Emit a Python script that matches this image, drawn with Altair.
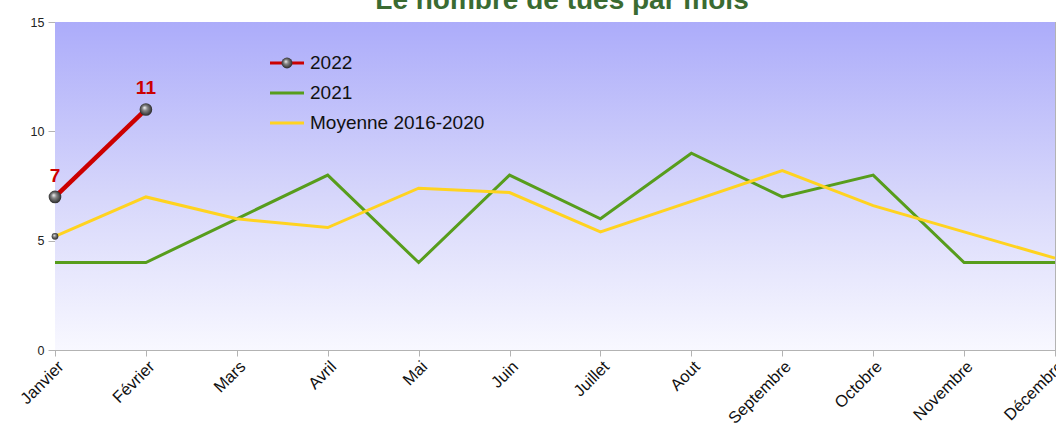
import altair as alt
import pandas as pd

months = ["Janvier", "Février", "Mars", "Avril", "Mai", "Juin", "Juillet",
          "Aout", "Septembre", "Octobre", "Novembre", "Décembre"]
v2022 = [7, 11]
v2021 = [4, 4, 6, 8, 4, 8, 6, 9, 7, 8, 4, 4]
moyenne = [5.2, 7.0, 6.0, 5.6, 7.4, 7.2, 5.4, 6.8, 8.2, 6.6, 5.4, 4.2]
legend_labels = ["2022", "2021", "Moyenne 2016-2020"]
title_text = "Le nombre de tués par mois"

RED = "#cc0000"
GREEN = "#579d1c"
YELLOW = "#ffd320"

df21 = pd.DataFrame({"mois": months, "v": v2021})
dfm = pd.DataFrame({"mois": months, "v": moyenne})
df22 = pd.DataFrame({"mois": months[:len(v2022)], "v": v2022})
dfm0 = dfm.iloc[:1]

xenc = alt.X("mois:N", sort=months, scale=alt.Scale(type="point", padding=0),
             axis=alt.Axis(title=None, labelAngle=-45, labelFontSize=16.5, labelColor="#111",
                           labelFont="Liberation Sans", tickSize=6, labelPadding=2,
                           domainColor="#b3b3b3", tickColor="#b3b3b3", grid=False))
yenc = alt.Y("v:Q", scale=alt.Scale(domain=[0, 15], nice=False),
             axis=alt.Axis(title=None, values=[0, 5, 10, 15], labelFontSize=12.5, labelColor="#222",
                           labelFont="Liberation Sans", tickSize=7, labelPadding=4,
                           domainColor="#b3b3b3", tickColor="#b3b3b3", grid=False))

bg_grad = alt.LinearGradient(gradient="linear", x1=0, x2=0, y1=0, y2=1,
                             stops=[alt.GradientStop(color="#acacfa", offset=0),
                                    alt.GradientStop(color="#d8d8fb", offset=0.55),
                                    alt.GradientStop(color="#f8f8ff", offset=1)])
sphere = alt.RadialGradient(gradient="radial", x1=0.38, y1=0.35, r1=0, x2=0.5, y2=0.5, r2=0.55,
                            stops=[alt.GradientStop(color="#ffffff", offset=0),
                                   alt.GradientStop(color="#8a8a8a", offset=0.35),
                                   alt.GradientStop(color="#1e1e1e", offset=1)])

bg = alt.Chart(dfm0).mark_rect(fill=bg_grad).encode(
    x=alt.value(0), x2=alt.value(1000), y=alt.value(0), y2=alt.value(328))

l21 = alt.Chart(df21).mark_line(color=GREEN, strokeWidth=3).encode(x=xenc, y=yenc)
lm = alt.Chart(dfm).mark_line(color=YELLOW, strokeWidth=3).encode(x=xenc, y=yenc)
pm = alt.Chart(dfm0).mark_point(filled=True, fill=sphere, size=45, opacity=1, strokeWidth=0).encode(x=xenc, y=yenc)
l22 = alt.Chart(df22).mark_line(color=RED, strokeWidth=4.5).encode(x=xenc, y=yenc)
p22 = alt.Chart(df22).mark_point(filled=True, fill=sphere, size=160, opacity=1, strokeWidth=0).encode(x=xenc, y=yenc)
t22 = alt.Chart(df22).mark_text(color=RED, fontSize=19, fontWeight="bold", font="Liberation Sans",
                                baseline="alphabetic", dy=-15).encode(x=xenc, y=yenc, text=alt.Text("v:Q"))

# custom legend
leg = pd.DataFrame({"label": legend_labels, "row": [0, 1, 2],
                    "col": [RED, GREEN, YELLOW]})
leg_y = alt.Y("row:Q", scale=alt.Scale(range=[41, 101], domain=[0, 2]), axis=None)
leg_lines = alt.Chart(leg).mark_rule(strokeWidth=3).encode(
    x=alt.value(215), x2=alt.value(249), y=leg_y,
    color=alt.Color("col:N", scale=None, legend=None))
leg_pt = alt.Chart(leg.iloc[:1]).mark_point(filled=True, fill=sphere, size=120, opacity=1, strokeWidth=0).encode(
    x=alt.value(232), y=leg_y)
leg_text = alt.Chart(leg).mark_text(align="left", baseline="middle", fontSize=19, font="Liberation Sans",
                                    color="#111").encode(x=alt.value(255), y=leg_y, text="label:N")

title = alt.Chart(dfm0).mark_text(fontSize=28, fontWeight="bold", font="Liberation Sans", color="#3a6b32",
                                  baseline="alphabetic", align="center").encode(
    x=alt.value(507), y=alt.value(-13), text=alt.value(title_text))

chart = alt.layer(bg, l21, lm, pm, l22, p22, t22, leg_lines, leg_pt, leg_text, title).resolve_scale(
    y="independent").properties(
    width=1000, height=328,
    autosize=alt.AutoSizeParams(type="none"),
    padding={"left": 55, "top": 22, "right": 1, "bottom": 80},
    background="white",
).configure_view(stroke="#b3b3b3", strokeWidth=1)

chart.save("out.html", embed_options={"renderer": "svg", "actions": False})
